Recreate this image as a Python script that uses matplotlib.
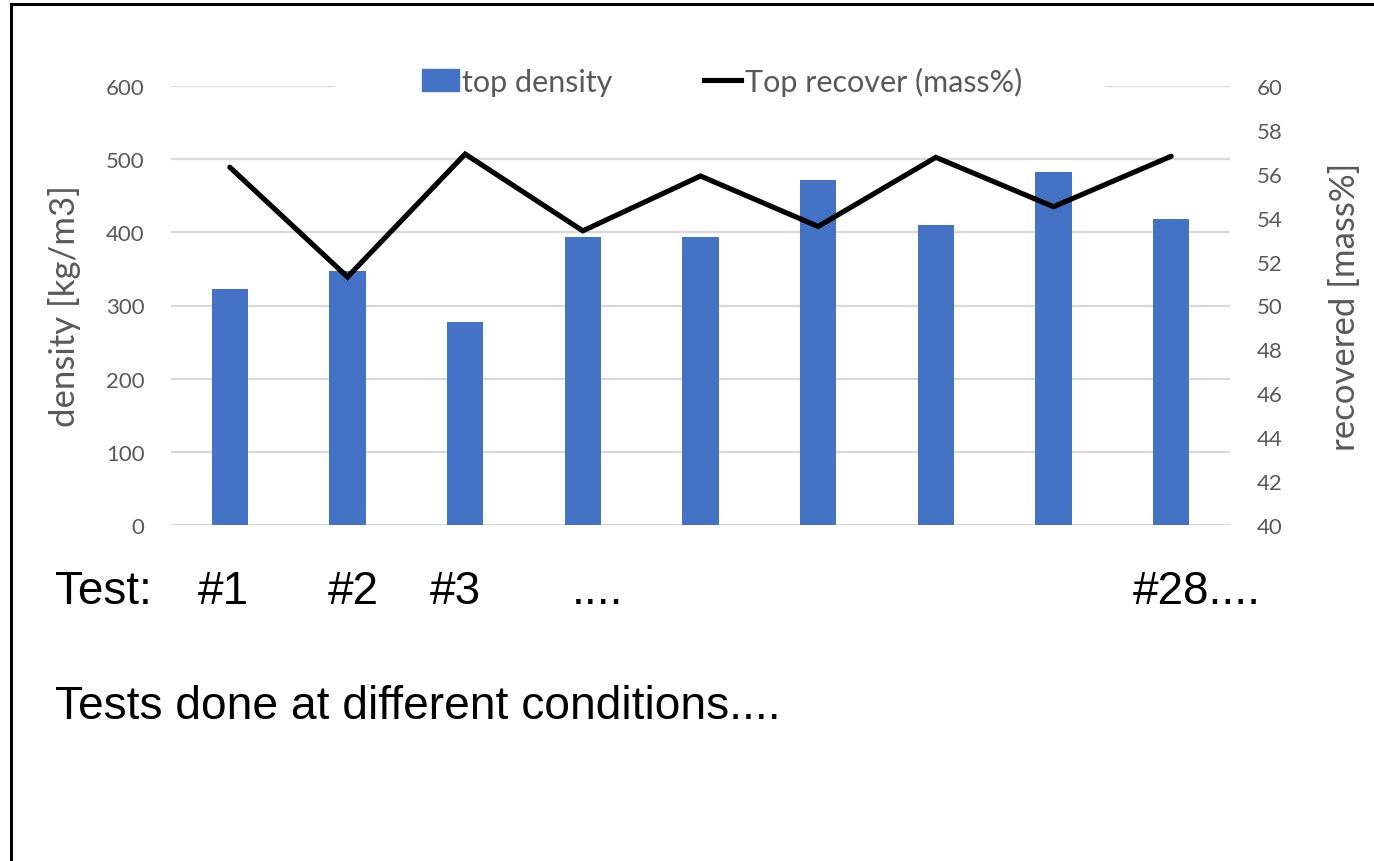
import matplotlib
matplotlib.use("Agg")
import matplotlib.pyplot as plt
from matplotlib.lines import Line2D
from matplotlib.patches import Patch, Rectangle
import numpy as np

# data
tests = ["#1", "#2", "#3", "#4", "#5", "#6", "#7", "#8", "#9"]
top_density = [323, 347, 277, 393, 393, 471, 410, 483, 418]
top_recover = [56.3, 51.3, 56.9, 53.4, 55.9, 53.6, 56.75, 54.5, 56.8]

# hand-written labels under the chart
label_texts = ["Test:", "#1", "#2", "#3", "....", "#28...."]
label_x_px = [55, 198, 328, 430, 572, 1133]
caption = "Tests done at different conditions...."

W, H = 1374, 862
GRAY = "#595959"
BLUE = "#4472C4"
GRID = "#d9d9d9"
TICK_FONT = "Lato"
NOTE_FONT = "Liberation Sans"

fig = plt.figure(figsize=(W / 100, H / 100), dpi=100)
ax = fig.add_axes([171 / W, 1 - 526 / H, (1230 - 171) / W, (526 - 87) / H])
ax2 = ax.twinx()

x = np.arange(len(tests))
ax.bar(x, top_density, width=0.31, color=BLUE, zorder=2)
ax2.plot(x, top_recover, color="black", linewidth=3.7, solid_capstyle="round",
         solid_joinstyle="miter", zorder=3)

ax.set_xlim(-0.5, len(tests) - 0.5)
ax.set_ylim(0, 600)
ax.set_yticks(np.arange(0, 601, 100))
ax2.set_ylim(40, 60)
ax2.set_yticks(np.arange(40, 61, 2))
ax.set_xticks([])

ax.yaxis.grid(True, color=GRID, linewidth=1.6, zorder=0)
ax.set_axisbelow(True)
for a in (ax, ax2):
    for s in a.spines.values():
        s.set_visible(False)
    a.tick_params(axis="y", length=0, labelsize=16, labelcolor=GRAY, pad=19)
    for lab in a.get_yticklabels():
        lab.set_fontfamily(TICK_FONT)

ax.set_ylabel("density [kg/m3]", fontsize=25, color=GRAY, fontfamily=TICK_FONT,
              labelpad=18)
ax2.set_ylabel("recovered [mass%]", fontsize=25, color=GRAY, fontfamily=TICK_FONT,
               labelpad=34, rotation=90)

# white area behind the legend hides part of the top gridline
fig.add_artist(Rectangle((335 / W, 1 - 98 / H), (1105 - 335) / W, 30 / H,
                         facecolor="white", edgecolor="none",
                         transform=fig.transFigure, zorder=4))

handles = [Patch(facecolor=BLUE, edgecolor=BLUE),
           Line2D([0], [0], color="black", linewidth=3.7)]
leg = fig.legend(handles, ["top density", "Top recover (mass%)"], ncol=2,
                 loc="center", bbox_to_anchor=(722 / W, 1 - 82 / H),
                 frameon=False, prop={"family": TICK_FONT, "size": 22},
                 handlelength=1.2, handletextpad=0.12, columnspacing=3.0)
leg.set_zorder(5)
for t in leg.get_texts():
    t.set_color(GRAY)

# text under the plot
for txt, px in zip(label_texts, label_x_px):
    fig.text(px / W, 1 - 604 / H, txt, fontsize=33, fontfamily=NOTE_FONT,
             color="black", ha="left", va="baseline")
fig.text(55 / W, 1 - 719 / H, caption, fontsize=33.2, fontfamily=NOTE_FONT,
         color="black", ha="left", va="baseline")

# slide frame (left and top edges)
fig.add_artist(Line2D([11 / W, 11 / W], [0, 1 - 5 / H], color="black", linewidth=2.2,
                      transform=fig.transFigure))
fig.add_artist(Line2D([11 / W, 1], [1 - 5 / H, 1 - 5 / H], color="black", linewidth=2.2,
                      transform=fig.transFigure))

fig.savefig("out.png", dpi=100)
